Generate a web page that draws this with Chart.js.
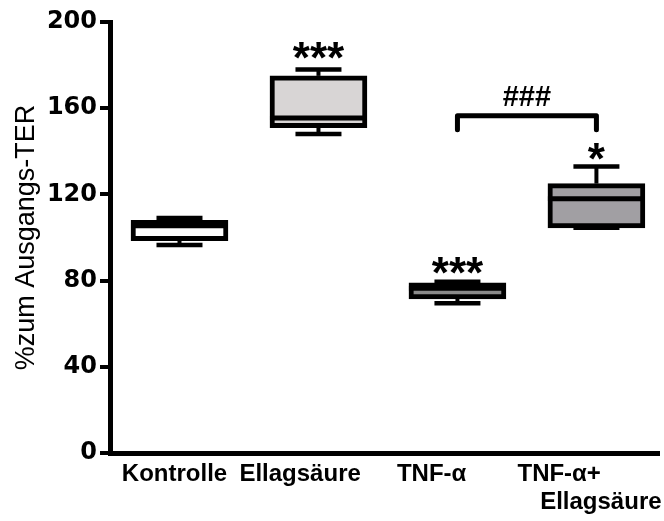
<!DOCTYPE html>
<html><head><meta charset="utf-8">
<script src="https://cdn.jsdelivr.net/npm/chart.js@4"></script>
<style>html,body{margin:0;padding:0;background:#fff}#wrap{width:664px;height:521px}</style>
</head><body><div id="wrap"><canvas id="c" width="664" height="521"></canvas></div>
<script>
// ---- data ----
const categories = ['Kontrolle', 'Ellagsäure', 'TNF-α', 'TNF-α+'];
const subLabels  = ['', '', '', 'Ellagsäure'];
const minVals    = [96.5, 148,   69.5, 104.5];
const q1Vals     = [98.5, 151,   71.5, 104.5];
const medianVals = [105.5, 155.5, 76.5, 118];
const q3Vals     = [108,  175,   79,   125];
const maxVals    = [109,  178,   79.5, 133];
const boxColors  = ['#ffffff', '#d8d5d5', '#8a8a8a', '#a19fa3'];
const sigLabels  = ['', '***', '***', '*'];
const sigValues  = [null, 187, 87, 140];
const yTicks     = [0, 40, 80, 120, 160, 200];
const bracketFrom = 2, bracketTo = 3, bracketTop = 156.5, bracketFoot = 150;
const bracketLabel = '###', bracketLabelValue = 165.5;

const FONT = "'Liberation Sans', Arial, sans-serif";
const FONT_TICK = "'DejaVu Sans', sans-serif";

const boxPlugin = {
  id: 'boxplot',
  afterDatasetsDraw(chart) {
    const {ctx, scales: {x, y}} = chart;
    const meta = chart.getDatasetMeta(0);
    const line = (x1, y1, x2, y2) => { ctx.beginPath(); ctx.moveTo(x1, y1); ctx.lineTo(x2, y2); ctx.stroke(); };
    ctx.save();
    ctx.strokeStyle = '#000';
    ctx.fillStyle = '#000';
    categories.forEach((c, i) => {
      const bar = meta.data[i];
      const cx = bar.x, half = bar.width / 2, capHalf = 23;
      const yMax = y.getPixelForValue(maxVals[i]);
      const yMin = y.getPixelForValue(minVals[i]);
      const yQ1 = y.getPixelForValue(q1Vals[i]);
      const yQ3 = y.getPixelForValue(q3Vals[i]);
      const yMed = y.getPixelForValue(medianVals[i]);
      ctx.lineCap = 'butt';
      ctx.lineWidth = 4;
      line(cx, yMax, cx, yQ3);
      line(cx, yQ1, cx, yMin);
      ctx.lineWidth = 4.5;
      line(cx - capHalf, yMax, cx + capHalf, yMax);
      line(cx - capHalf, yMin, cx + capHalf, yMin);
      ctx.lineWidth = 5;
      line(cx - half, yMed, cx + half, yMed);
      if (sigLabels[i]) {
        ctx.font = 'bold 44px ' + FONT;
        ctx.textAlign = 'center';
        ctx.textBaseline = 'alphabetic';
        const m = ctx.measureText(sigLabels[i]);
        const py = y.getPixelForValue(sigValues[i]);
        ctx.fillText(sigLabels[i], cx, py + (m.actualBoundingBoxAscent - m.actualBoundingBoxDescent) / 2);
      }
    });
    // bracket
    const bx1 = x.getPixelForValue(bracketFrom), bx2 = x.getPixelForValue(bracketTo);
    const byTop = y.getPixelForValue(bracketTop), byFoot = y.getPixelForValue(bracketFoot);
    ctx.lineWidth = 5;
    ctx.lineJoin = 'round';
    ctx.lineCap = 'round';
    ctx.beginPath();
    ctx.moveTo(bx1, byFoot); ctx.lineTo(bx1, byTop); ctx.lineTo(bx2, byTop); ctx.lineTo(bx2, byFoot);
    ctx.stroke();
    ctx.font = 'bold 29px ' + FONT;
    ctx.textAlign = 'center';
    ctx.textBaseline = 'alphabetic';
    const m2 = ctx.measureText(bracketLabel);
    ctx.fillText(bracketLabel, (bx1 + bx2) / 2,
      y.getPixelForValue(bracketLabelValue) + (m2.actualBoundingBoxAscent - m2.actualBoundingBoxDescent) / 2);
    ctx.restore();
  }
};

// label anchor offsets (layout only)
const labelShift = [-0.036, -0.132, -0.186, -0.268];
const subShift = 0.032;

new Chart(document.getElementById('c').getContext('2d'), {
  type: 'bar',
  data: {
    datasets: [{
      data: categories.map((c, i) => ({x: i, y: [q1Vals[i], q3Vals[i]]})),
      backgroundColor: boxColors,
      borderColor: '#000',
      borderWidth: 5,
      borderSkipped: false,
      barThickness: 97
    }]
  },
  options: {
    responsive: false,
    animation: false,
    devicePixelRatio: 1,
    layout: {padding: {top: 22, left: 0, right: 0, bottom: 0}},
    plugins: {legend: {display: false}, tooltip: {enabled: false}},
    scales: {
      x: {
        type: 'linear', min: -0.5, max: 3.457, offset: false, weight: 0,
        grid: {display: false, drawTicks: false},
        border: {display: true, color: '#000', width: 5},
        afterBuildTicks: s => { s.ticks = categories.map((c, i) => ({value: i + labelShift[i]})); },
        ticks: {
          autoSkip: false, maxRotation: 0, color: '#000', padding: 7,
          font: {family: FONT, size: 24, weight: 'bold'},
          callback: (v, i) => categories[i]
        },
        afterFit: s => { s.height = 33; }
      },
      x2: {
        type: 'linear', position: 'bottom', min: -0.5, max: 3.457, offset: false, weight: 1,
        grid: {display: false, drawTicks: false},
        border: {display: false},
        afterBuildTicks: s => {
          s.ticks = subLabels.map((t, i) => ({value: i + subShift, t})).filter(o => o.t);
        },
        ticks: {
          autoSkip: false, maxRotation: 0, color: '#000', padding: 2,
          font: {family: FONT, size: 24, weight: 'bold'},
          callback: (v, i) => subLabels.filter(t => t)[i]
        },
        afterFit: s => { s.height = 35; }
      },
      y: {
        min: 0, max: 200,
        afterBuildTicks: s => { s.ticks = yTicks.map(v => ({value: v})); },
        grid: {display: true, drawOnChartArea: false, drawTicks: true, tickLength: 10, lineWidth: 4, color: '#000'},
        border: {display: true, color: '#000', width: 5},
        ticks: {color: '#000', padding: 3, font: {family: FONT_TICK, size: 24, weight: 'bold'}},
        title: {display: true, text: '%zum Ausgangs-TER', color: '#000', font: {family: FONT, size: 27}, padding: {top: 10, bottom: 0}},
        afterFit: s => { s.width = 110; }
      }
    }
  },
  plugins: [boxPlugin]
});
</script>
</body></html>
